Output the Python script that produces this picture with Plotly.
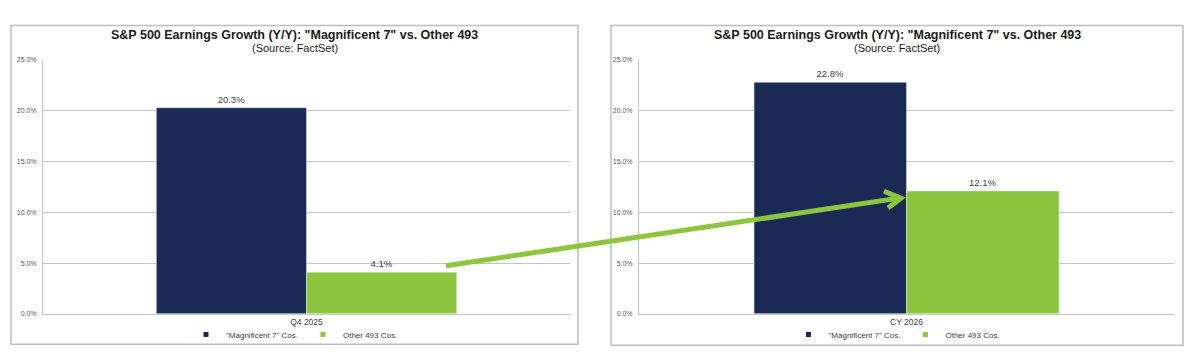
import plotly.graph_objects as go

# ---- data ----
periods = ["Q4 2025", "CY 2026"]
series_names = ['"Magnificent 7" Cos.', "Other 493 Cos."]
mag7_growth = [20.3, 22.8]
other493_growth = [4.1, 12.1]
y_ticks = [0, 5, 10, 15, 20, 25]
y_tick_labels = ["0.0%", "5.0%", "10.0%", "15.0%", "20.0%", "25.0%"]
chart_title = 'S&P 500 Earnings Growth (Y/Y): "Magnificent 7" vs. Other 493'
chart_subtitle = "(Source: FactSet)"

# ---- style ----
W, H = 1198, 360
NAVY = "#1b2a55"
GREEN = "#8cc63e"
GRID = "#c4c4c4"
BORDER = "#bdbdbd"
TXT = "#404040"
FONT = "Liberation Sans, Arial, sans-serif"


def px(x):
    return x / W


def py(y):
    return (H - y) / H


panels = [
    dict(box=(11, 22, 578, 347), plot_x=(43, 570)),
    dict(box=(611, 22, 1183, 348), plot_x=(639, 1174)),
]
plot_y = (57, 316)

fig = go.Figure()
shapes = []
annotations = []

for i, p in enumerate(panels):
    n = "" if i == 0 else str(i + 1)
    xa, ya = "x" + n, "y" + n
    leg = "legend" + n
    cat = [periods[i]]
    fig.add_trace(go.Bar(x=cat, y=[mag7_growth[i]], marker_color=NAVY, name=series_names[0],
                         xaxis=xa, yaxis=ya, showlegend=False,
                         texttemplate="%{y:.1f}%", textposition="outside",
                         textfont=dict(size=9.5, color=TXT, family=FONT), cliponaxis=False))
    fig.add_trace(go.Bar(x=cat, y=[other493_growth[i]], marker_color=GREEN, name=series_names[1],
                         xaxis=xa, yaxis=ya, showlegend=False,
                         texttemplate="%{y:.1f}%", textposition="outside",
                         textfont=dict(size=9.5, color=TXT, family=FONT), cliponaxis=False))
    # legend entries (small square swatches)
    for name, col in zip(series_names, [NAVY, GREEN]):
        fig.add_trace(go.Scatter(x=[None], y=[None], mode="markers", name=name,
                                 marker=dict(symbol="square", size=5, color=col),
                                 xaxis=xa, yaxis=ya, legend=leg, showlegend=True,
                                 hoverinfo="skip"))
    x0, x1 = p["plot_x"]
    fig.update_layout(**{
        "xaxis" + n: dict(domain=[px(x0), px(x1)], type="category", range=[-0.5, 0.5],
                          showline=True, linecolor=GRID, linewidth=1, ticks="",
                          showgrid=False, fixedrange=True, anchor=ya,
                          tickfont=dict(size=8.5, color=TXT, family=FONT)),
        "yaxis" + n: dict(domain=[py(plot_y[1]), py(plot_y[0])], range=[0, 25],
                          tickmode="array", tickvals=y_ticks, ticktext=y_tick_labels,
                          showline=True, linecolor=GRID, linewidth=1, ticks="",
                          showgrid=True, gridcolor=GRID, gridwidth=1, zeroline=False,
                          anchor=xa, ticklabelstandoff=4, fixedrange=True,
                          tickfont=dict(size=7, color="#595959", family=FONT)),
        leg: dict(orientation="h", x=(px(p["box"][0]) + px(p["box"][2])) / 2, xanchor="center",
                  y=py(337), yanchor="middle", font=dict(size=8, color=TXT, family=FONT),
                  itemwidth=30, bgcolor="rgba(0,0,0,0)", tracegroupgap=0),
    })
    bx0, by0, bx1, by1 = p["box"]
    shapes.append(dict(type="rect", xref="paper", yref="paper",
                       x0=px(bx0), x1=px(bx1), y0=py(by1), y1=py(by0),
                       line=dict(color=BORDER, width=1.5), layer="below"))
    cx = (px(bx0) + px(bx1)) / 2
    annotations.append(dict(text="<b>" + chart_title + "</b>", xref="paper", yref="paper",
                            x=cx, y=py(31.5), xanchor="center", yanchor="middle", showarrow=False,
                            font=dict(size=12.5, color="#1a1a1a", family=FONT)))
    annotations.append(dict(text=chart_subtitle, xref="paper", yref="paper",
                            x=cx, y=py(45), xanchor="center", yanchor="middle", showarrow=False,
                            font=dict(size=11, color="#1a1a1a", family=FONT)))

# ---- connecting arrow (decoration) ----
ARROW = "#8cc63e"
ax0, ay0 = 446, 267
ax1, ay1 = 899, 198
shapes.append(dict(type="line", xref="paper", yref="paper",
                   x0=px(ax0), y0=py(ay0), x1=px(ax1), y1=py(ay1),
                   line=dict(color=ARROW, width=5)))
shapes.append(dict(type="path", xref="paper", yref="paper",
                   path=f"M {px(ax1-15)},{py(ay1-7)} L {px(ax1+2)},{py(ay1)} L {px(ax1-11)},{py(ay1+10)}",
                   line=dict(color=ARROW, width=5)))

fig.update_layout(
    width=W, height=H,
    margin=dict(l=0, r=0, t=0, b=0),
    paper_bgcolor="white", plot_bgcolor="white",
    barmode="group", bargap=0.43, bargroupgap=0,
    font=dict(family=FONT, color=TXT),
    shapes=shapes, annotations=annotations,
)

fig.write_html("out.html", config={"displayModeBar": False})

# remove the browser's default page margin so the figure sits at (0, 0)
with open("out.html", "r", encoding="utf-8") as f:
    html = f.read()
html = html.replace("<head>", "<head><style>html,body{margin:0;padding:0;overflow:hidden;}</style>", 1)
with open("out.html", "w", encoding="utf-8") as f:
    f.write(html)
